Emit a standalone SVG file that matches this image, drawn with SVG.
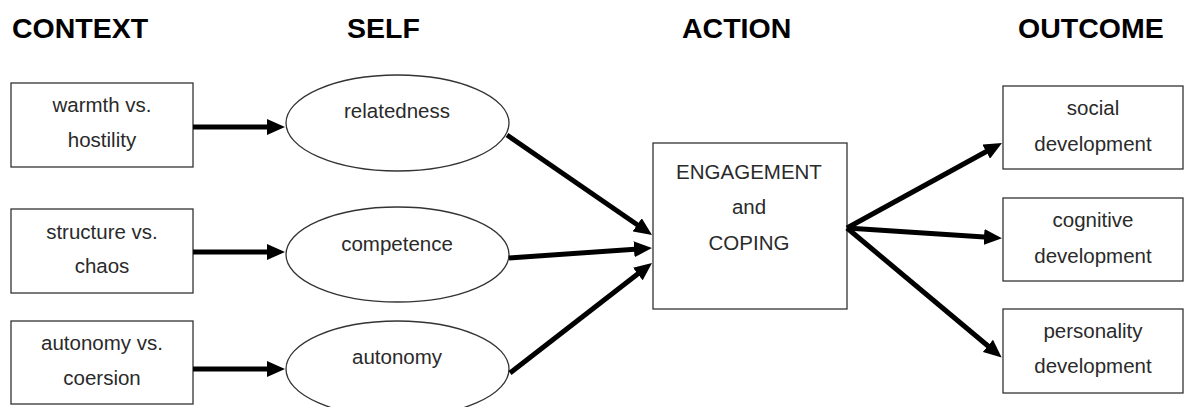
<svg xmlns="http://www.w3.org/2000/svg" width="1184" height="407" viewBox="0 0 1184 407">
<style>
.hdr{font-family:"Liberation Sans",Arial,sans-serif;font-weight:bold;font-size:28.5px;fill:#000}
.lbl{font-family:"Liberation Sans",Arial,sans-serif;font-size:20.5px;fill:#2a2a2a;text-anchor:middle}
.box{fill:#fff;stroke:#333;stroke-width:1.3}
.arr{stroke:#000;stroke-width:5;fill:none;marker-end:url(#ah)}
</style>
<defs>
<marker id="ah" markerUnits="userSpaceOnUse" markerWidth="18" markerHeight="16" refX="8" refY="8" orient="auto" viewBox="0 0 18 16">
<path d="M0,0 L18,8 L0,16 z" fill="#000"/>
</marker>
</defs>
<rect width="1184" height="407" fill="#fff"/>
<g id="headers">
<text class="hdr" x="12" y="38">CONTEXT</text>
<text class="hdr" x="347" y="38">SELF</text>
<text class="hdr" x="682" y="38">ACTION</text>
<text class="hdr" x="1018" y="38">OUTCOME</text>
</g>
<g id="ctx1"><rect class="box" x="11" y="83" width="182" height="84"/><text class="lbl" x="102" y="112">warmth vs.</text><text class="lbl" x="102" y="147">hostility</text></g>
<g id="ctx2"><rect class="box" x="11" y="209" width="182" height="84"/><text class="lbl" x="102" y="239">structure vs.</text><text class="lbl" x="102" y="273">chaos</text></g>
<g id="ctx3"><rect class="box" x="11" y="321" width="182" height="83"/><text class="lbl" x="102" y="350">autonomy vs.</text><text class="lbl" x="102" y="385">coersion</text></g>
<g id="self1"><ellipse class="box" cx="397.5" cy="123" rx="111.5" ry="48"/><text class="lbl" x="397" y="118">relatedness</text></g>
<g id="self2"><ellipse class="box" cx="397.5" cy="254.5" rx="111.5" ry="47.5"/><text class="lbl" x="397" y="251">competence</text></g>
<g id="self3"><ellipse class="box" cx="397.5" cy="369" rx="111.5" ry="48"/><text class="lbl" x="397" y="364">autonomy</text></g>
<g id="action"><rect class="box" x="653" y="143" width="194" height="166"/><text class="lbl" x="749" y="179">ENGAGEMENT</text><text class="lbl" x="749" y="214">and</text><text class="lbl" x="749" y="250">COPING</text></g>
<g id="out1"><rect class="box" x="1003" y="86" width="180" height="83"/><text class="lbl" x="1093" y="115">social</text><text class="lbl" x="1093" y="151">development</text></g>
<g id="out2"><rect class="box" x="1003" y="198" width="180" height="83"/><text class="lbl" x="1093" y="227">cognitive</text><text class="lbl" x="1093" y="263">development</text></g>
<g id="out3"><rect class="box" x="1003" y="309" width="180" height="84"/><text class="lbl" x="1093" y="338">personality</text><text class="lbl" x="1093" y="373">development</text></g>
<g id="connectors">
<line class="arr" x1="193" y1="127" x2="275" y2="127"/>
<line class="arr" x1="193" y1="252" x2="275" y2="252"/>
<line class="arr" x1="193" y1="369" x2="275" y2="369"/>
<line class="arr" x1="507" y1="135" x2="643.8" y2="229.3"/>
<line class="arr" x1="509" y1="258" x2="642" y2="248.7"/>
<line class="arr" x1="510" y1="373" x2="644.1" y2="269.1"/>
<line class="arr" x1="847" y1="228" x2="993.2" y2="147.8"/>
<line class="arr" x1="847" y1="228" x2="992" y2="237.6"/>
<line class="arr" x1="847" y1="228" x2="994" y2="351"/>
</g>
</svg>
